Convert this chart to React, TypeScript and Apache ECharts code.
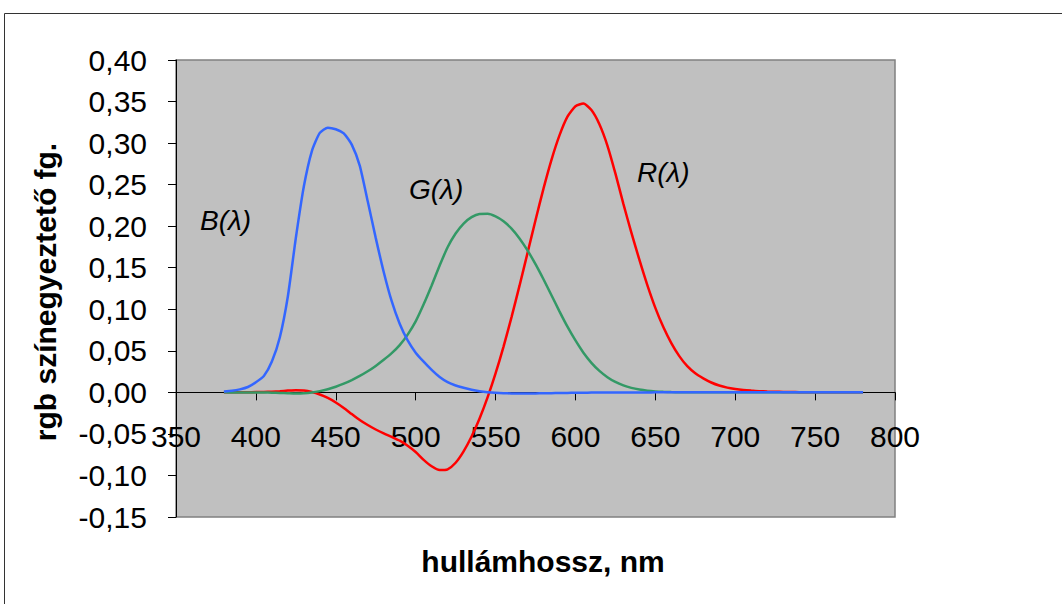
import React, { useEffect, useRef } from "react";
import * as echarts from "echarts";

const wavelengths = [
  380, 385, 390, 395, 400, 405, 410, 415, 420, 425, 430, 435, 440, 445, 450, 455, 460, 465, 470, 475,
  480, 485, 490, 495, 500, 505, 510, 515, 520, 525, 530, 535, 540, 545, 550, 555, 560, 565, 570, 575,
  580, 585, 590, 595, 600, 605, 610, 615, 620, 625, 630, 635, 640, 645, 650, 655, 660, 665, 670, 675,
  680, 685, 690, 695, 700, 705, 710, 715, 720, 725, 730, 735, 740, 745, 750, 755, 760, 765, 770, 775, 780,
];

const rValues = [
  0.00003, 0.00005, 0.0001, 0.00017, 0.0003, 0.00047, 0.00084, 0.00139, 0.00211, 0.00266, 0.00218, 0.00036,
  -0.00261, -0.00673, -0.01213, -0.01874, -0.02608, -0.03324, -0.03933, -0.04471, -0.04939, -0.05364,
  -0.05814, -0.06414, -0.07173, -0.0812, -0.08901, -0.09356, -0.09264, -0.08473, -0.07101, -0.05316,
  -0.03152, -0.00613, 0.02279, 0.05514, 0.0906, 0.1284, 0.16768, 0.20715, 0.24526, 0.27989, 0.30928,
  0.33184, 0.34429, 0.34756, 0.33971, 0.32265, 0.29708, 0.26348, 0.22677, 0.19233, 0.15968, 0.12905,
  0.10167, 0.07857, 0.05932, 0.04366, 0.03149, 0.02294, 0.01687, 0.01187, 0.00819, 0.00572, 0.0041,
  0.00291, 0.0021, 0.00148, 0.00105, 0.00074, 0.00052, 0.00036, 0.00025, 0.00017, 0.00012, 0.00008,
  0.00006, 0.00004, 0.00003, 0.00001, 0.0,
];

const gValues = [
  -0.00001, -0.00002, -0.00004, -0.00007, -0.00014, -0.00022, -0.00041, -0.0007, -0.0011, -0.00143,
  -0.00119, -0.00021, 0.00149, 0.00379, 0.00678, 0.01046, 0.01485, 0.01977, 0.02538, 0.03183, 0.03914,
  0.04713, 0.05689, 0.06948, 0.08536, 0.10593, 0.1286, 0.15262, 0.17468, 0.19113, 0.20317, 0.21083,
  0.21466, 0.21487, 0.21178, 0.20588, 0.19702, 0.18522, 0.17087, 0.15429, 0.1361, 0.11686, 0.09754,
  0.07909, 0.06246, 0.04776, 0.03557, 0.02583, 0.01828, 0.01253, 0.00833, 0.00537, 0.00334, 0.00199,
  0.00116, 0.00066, 0.00037, 0.00021, 0.00011, 0.00006, 0.00003, 0.00001, 0.0, 0.0, 0.0, 0.0, 0.0, 0.0,
  0.0, 0.0, 0.0, 0.0, 0.0, 0.0, 0.0, 0.0, 0.0, 0.0, 0.0, 0.0, 0.0,
];

const bValues = [
  0.00117, 0.00189, 0.00359, 0.00647, 0.01214, 0.01969, 0.03707, 0.06637, 0.11541, 0.18575, 0.24769,
  0.29012, 0.31228, 0.3186, 0.3167, 0.31166, 0.29821, 0.27295, 0.22991, 0.18592, 0.14494, 0.10968,
  0.08257, 0.06246, 0.04776, 0.03688, 0.02698, 0.01842, 0.01221, 0.0083, 0.00549, 0.0032, 0.00146,
  0.00023, -0.00058, -0.00105, -0.0013, -0.00138, -0.00135, -0.00123, -0.00108, -0.00093, -0.00079,
  -0.00063, -0.00049, -0.00038, -0.0003, -0.00022, -0.00015, -0.00011, -0.00008, -0.00005, -0.00003,
  -0.00002, -0.00001, -0.00001, 0.0, 0.0, 0.0, 0.0, 0.0, 0.0, 0.0, 0.0, 0.0, 0.0, 0.0, 0.0, 0.0, 0.0,
  0.0, 0.0, 0.0, 0.0, 0.0, 0.0, 0.0, 0.0, 0.0, 0.0, 0.0,
];

const seriesNames = ["R(λ)", "G(λ)", "B(λ)"];
const seriesColors = ["#FF0000", "#339966", "#3366FF"];
const xTitle = "hullámhossz, nm";
const yTitle = "rgb színegyeztető fg.";

const FONT = "'Liberation Sans', Arial, sans-serif";

const Y_MIN = -0.15;
const Y_MAX = 0.4;
const GRID_TOP = 60;
const GRID_H = 457;

export default function App() {
  const ref = useRef<HTMLDivElement>(null);

  useEffect(() => {
    if (!ref.current) return;
    const chart = echarts.init(ref.current, null, { renderer: "svg" });
    const toPairs = (vals: number[]) => wavelengths.map((w, i) => [w, vals[i]]);
    const allValues = [rValues, gValues, bValues];
    // distance of the zero line above the grid bottom
    const zeroOffset = (GRID_H * (0 - Y_MIN)) / (Y_MAX - Y_MIN);

    const label = (text: string, x: number, y: number) => ({
      type: "text",
      x,
      y,
      style: {
        text,
        font: `italic 28px ${FONT}`,
        fill: "#000",
        textAlign: "left",
        textVerticalAlign: "middle",
      },
    });

    chart.setOption({
      animation: false,
      backgroundColor: "#FFFFFF",
      grid: {
        left: 176,
        top: GRID_TOP,
        width: 719,
        height: GRID_H,
        show: true,
        backgroundColor: "#C0C0C0",
        borderColor: "#808080",
        borderWidth: 1.5,
      },
      xAxis: {
        type: "value",
        min: 350,
        max: 800,
        interval: 50,
        position: "bottom",
        offset: -zeroOffset,
        axisLine: { onZero: false, lineStyle: { color: "#000", width: 1 } },
        axisTick: { show: true, length: 8, lineStyle: { color: "#000" } },
        axisLabel: {
          color: "#000",
          fontSize: 30,
          fontFamily: FONT,
          margin: 29,
          showMinLabel: true,
          showMaxLabel: true,
          hideOverlap: false,
        },
        splitLine: { show: false },
      },
      yAxis: {
        type: "value",
        min: Y_MIN,
        max: Y_MAX,
        interval: 0.05,
        axisLine: { show: true, onZero: false, lineStyle: { color: "#000", width: 1 } },
        axisTick: { show: true, length: 8, lineStyle: { color: "#000" } },
        axisLabel: {
          color: "#000",
          fontSize: 30,
          fontFamily: FONT,
          margin: 29,
          formatter: (v: number) => {
            const r = Math.round(v * 100) / 100;
            return (r === 0 ? 0 : r).toFixed(2).replace(".", ",");
          },
        },
        splitLine: { show: false },
      },
      series: seriesNames.map((name, i) => ({
        name,
        type: "line",
        data: toPairs(allValues[i]),
        showSymbol: false,
        smooth: 0.2,
        lineStyle: { color: seriesColors[i], width: 2.5 },
        itemStyle: { color: seriesColors[i] },
      })),
      graphic: [
        {
          type: "rect",
          silent: true,
          shape: { x: 4.5, y: 13.5, width: 1200, height: 800 },
          style: { fill: "none", stroke: "#333", lineWidth: 1 },
          z: -10,
        },
        {
          type: "text",
          x: 543,
          y: 561,
          style: {
            text: xTitle,
            font: `bold 30px ${FONT}`,
            fill: "#000",
            textAlign: "center",
            textVerticalAlign: "middle",
          },
        },
        {
          type: "text",
          x: 45,
          y: 292,
          rotation: Math.PI / 2,
          style: {
            text: yTitle,
            font: `bold 30px ${FONT}`,
            fill: "#000",
            textAlign: "center",
            textVerticalAlign: "middle",
          },
        },
        label(seriesNames[2], 200, 220),
        label(seriesNames[1], 409, 189),
        label(seriesNames[0], 637, 172),
      ],
    });

    return () => chart.dispose();
  }, []);

  return (
    <div
      ref={ref}
      style={{ position: "fixed", left: 0, top: 0, width: 1062, height: 604 }}
    />
  );
}
